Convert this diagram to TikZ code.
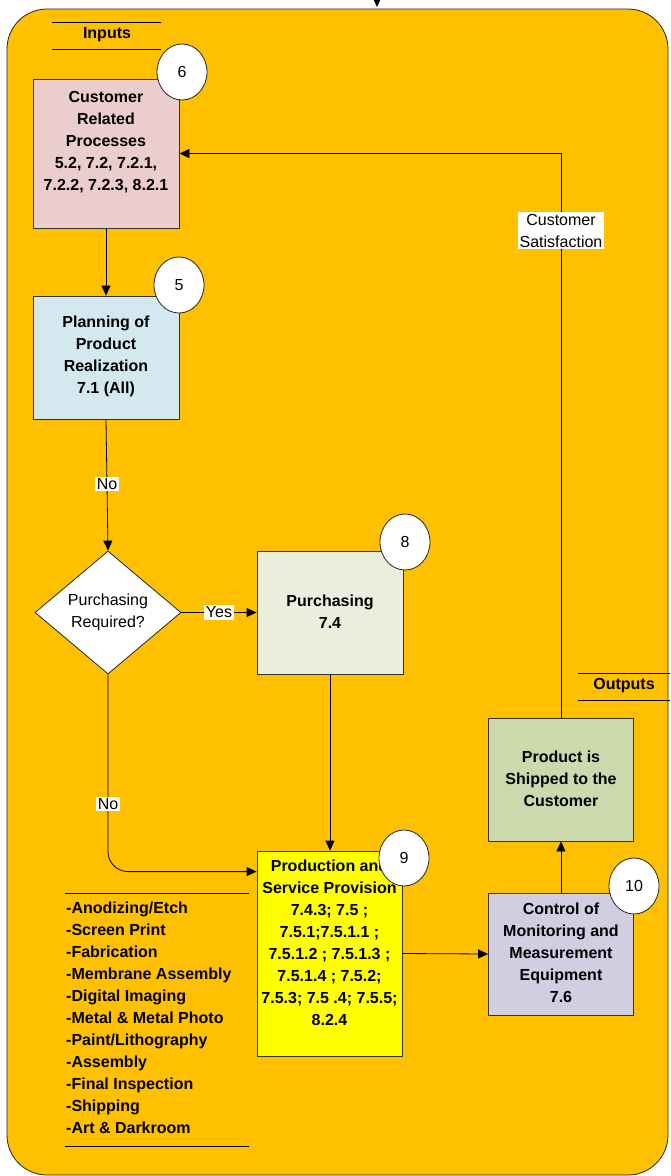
\documentclass[tikz,border=0pt]{standalone}
\usepackage{fontspec}
\setmainfont{Liberation Sans}
\usetikzlibrary{arrows.meta,shapes.geometric}
\definecolor{bgorange}{HTML}{FFC000}
\definecolor{pinkbox}{HTML}{EBCDCD}
\definecolor{bluebox}{HTML}{D3E9EF}
\definecolor{purchbox}{HTML}{EBEEDD}
\definecolor{yellowbox}{HTML}{FFFF00}
\definecolor{lavbox}{HTML}{D3CDE1}
\definecolor{greenbox}{HTML}{CCD9AD}
\begin{document}
\begin{tikzpicture}[x=1pt,y=-1pt,
  box/.style={draw=black!80, line width=0.8pt, inner sep=0pt},
  btxt/.style={align=center, inner sep=0pt, font=\fontsize{16}{22}\selectfont\bfseries},
  ntxt/.style={align=center, inner sep=0pt, font=\fontsize{16}{22}\selectfont},
  numc/.style={ellipse, draw=black!85, line width=0.8pt, fill=white, minimum width=50pt, minimum height=56pt, inner sep=0pt, font=\fontsize{16}{19}\selectfont},
  conn/.style={draw=black, line width=0.8pt},
  arr/.style={conn, -{Triangle[length=10pt,width=9pt]}},
  lbl/.style={fill=white, inner sep=1.5pt, font=\fontsize{16}{22}\selectfont, align=center},
  rule/.style={draw=black, line width=0.8pt}
]
\useasboundingbox (0,0) rectangle (670,1176);
% outer frame
\draw[fill=bgorange, draw=black!85, line width=0.8pt, rounded corners=40pt] (7,9) rectangle (668,1175);

% top incoming arrow
\coordinate (topA) at (377,-12);
\coordinate (topB) at (377,7);
\draw[arr] (topA) -- (topB);

% Inputs header
\coordinate (inL1) at (52,22); \coordinate (inR1) at (161,22);
\coordinate (inL2) at (52,49); \coordinate (inR2) at (161,49);
\draw[rule] (inL1) -- (inR1);
\draw[rule] (inL2) -- (inR2);
\node[btxt] (inputs) at (107,35) {Inputs};

% Outputs header
\coordinate (outL1) at (578,673); \coordinate (outR1) at (670,673);
\coordinate (outL2) at (578,700); \coordinate (outR2) at (670,700);
\draw[rule] (outL1) -- (outR1);
\draw[rule] (outL2) -- (outR2);
\node[btxt] (outputs) at (624,686) {Outputs};

% boxes
\node[box, fill=pinkbox, minimum width=146pt, minimum height=149pt] (cust) at (106,153.5) {};
\node[btxt] (custT) at (106,142.5) {Customer\\Related\\Processes\\5.2, 7.2, 7.2.1,\\7.2.2, 7.2.3, 8.2.1};

\node[box, fill=bluebox, minimum width=146pt, minimum height=123pt] (plan) at (106,357.5) {};
\node[btxt] (planT) at (106,356.5) {Planning of\\Product\\Realization\\7.1 (All)};

\node[diamond, draw=black!85, line width=0.8pt, fill=white, minimum width=146pt, minimum height=123pt, inner sep=0pt] (diam) at (108,612.5) {};
\node[ntxt] (diamT) at (108,612) {Purchasing\\Required?};

\node[box, fill=purchbox, minimum width=146pt, minimum height=123pt] (purch) at (330,612.5) {};
\node[btxt] (purchT) at (330,611.5) {Purchasing\\7.4};

\node[box, fill=yellowbox, minimum width=145pt, minimum height=205pt] (prod) at (329.5,953.5) {};
\node[btxt] (prodT) at (329.5,942.5) {Production and\\Service Provision\\7.4.3; 7.5 ;\\7.5.1;7.5.1.1 ;\\7.5.1.2 ; 7.5.1.3 ;\\7.5.1.4 ; 7.5.2;\\7.5.3; 7.5 .4; 7.5.5;\\8.2.4};

\node[box, fill=lavbox, minimum width=145pt, minimum height=122pt] (ctrl) at (561,954) {};
\node[btxt] (ctrlT) at (561,952.5) {Control of\\Monitoring and\\Measurement\\Equipment\\7.6};

\node[box, fill=greenbox, minimum width=145pt, minimum height=123pt] (ship) at (561,779.5) {};
\node[btxt] (shipT) at (561,778.5) {Product is\\Shipped to the\\Customer};

% list of processes
\coordinate (lsL1) at (65,893); \coordinate (lsR1) at (249,893);
\coordinate (lsL2) at (65,1146); \coordinate (lsR2) at (249,1146);
\draw[rule] (lsL1) -- (lsR1);
\draw[rule] (lsL2) -- (lsR2);
\node[align=left, inner sep=0pt, anchor=west, font=\fontsize{16}{22}\selectfont\bfseries] (list) at (66,1018)
 {-Anodizing/Etch\\-Screen Print\\-Fabrication\\-Membrane Assembly\\-Digital Imaging\\-Metal \& Metal Photo\\-Paint/Lithography\\-Assembly\\-Final Inspection\\-Shipping\\-Art \& Darkroom};

% connectors
\draw[arr] (cust.south) -- (plan.north);
\draw[arr] (plan.south) -- node[lbl, pos=0.49] (noA) {No} (diam.north);
\draw[arr] (diam.east) -- node[lbl, pos=0.5] (yes) {Yes} (purch.west);
\draw[arr] (purch.south) -- (prod.north -| purch.south);
\draw[arr, rounded corners=20pt] (diam.south) |- ([yshift=-21pt]prod.north west);
\node[lbl] (noB) at (108,804) {No};
\draw[arr] (prod.east) -- (ctrl.west);
\draw[arr] (ctrl.north) -- (ship.south);
\draw[arr] (ship.north) |- (cust.east);
\node[lbl] (sat) at (561,230.5) {Customer\\Satisfaction};

% number circles
\node[numc] (c6) at (182,72) {6};
\node[numc] (c5) at (179,285) {5};
\node[numc] (c8) at (405,542) {8};
\node[numc] (c9) at (404,858) {9};
\node[numc] (c10) at (634,886) {10};
\end{tikzpicture}
\end{document}
